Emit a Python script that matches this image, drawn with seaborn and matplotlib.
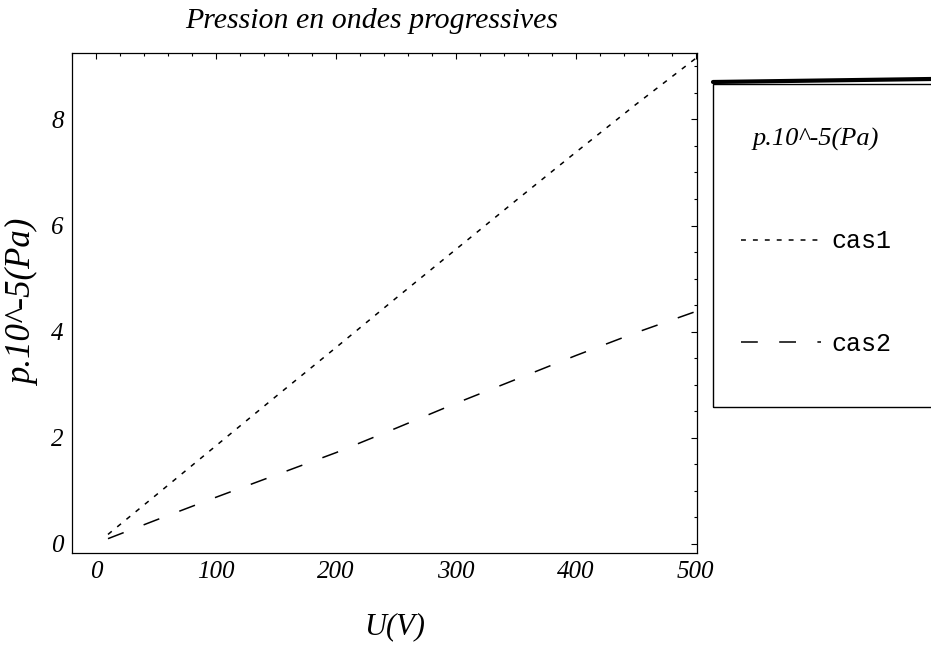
import pandas as pd
import seaborn as sns
import matplotlib.pyplot as plt
from matplotlib.patches import Rectangle
from matplotlib.lines import Line2D
from matplotlib.ticker import MultipleLocator

# values
U = [10, 50, 100, 150, 200, 250, 300, 350, 400, 450, 500]
cas1 = [0.18, 0.92, 1.85, 2.78, 3.70, 4.63, 5.55, 6.47, 7.38, 8.28, 9.15]
cas2 = [0.10, 0.45, 0.88, 1.30, 1.72, 2.18, 2.65, 3.10, 3.55, 3.98, 4.38]
series = ['cas1', 'cas2']
xticks = [0, 100, 200, 300, 400, 500]
yticks = [0, 2, 4, 6, 8]

sns.set_theme(style='white')
plt.rcParams['font.family'] = ['Liberation Serif', 'DejaVu Serif']
plt.rcParams['font.style'] = 'italic'
for key in ['text.color', 'axes.labelcolor', 'xtick.color', 'ytick.color']:
    plt.rcParams[key] = 'black'

df = pd.DataFrame({
    'U': U * 2,
    'p': cas1 + cas2,
    'serie': [series[0]] * len(U) + [series[1]] * len(U),
})

fig = plt.figure(figsize=(9.31, 6.5), dpi=100)
ax = fig.add_axes([72 / 931, 1 - 553 / 650, 625 / 931, 500 / 650])

sns.lineplot(data=df, x='U', y='p', style='serie', color='black',
             dashes={'cas1': (3.2, 4.6), 'cas2': (11, 14)},
             linewidth=1.1, legend=False, ax=ax)

ax.set_xlim(-20, 501)
ax.set_ylim(-0.17, 9.25)
ax.set_xticks(xticks)
ax.set_yticks(yticks)
ax.xaxis.set_minor_locator(MultipleLocator(20))
ax.yaxis.set_minor_locator(MultipleLocator(0.5))
ax.tick_params(which='both', direction='in', top=True, right=True,
               width=0.8, color='black', labelsize=18, pad=6)
ax.tick_params(which='major', length=4)
ax.tick_params(which='minor', length=2.2)
for s in ax.spines.values():
    s.set_color('black')
    s.set_linewidth(0.9)

ax.set_title('Pression en ondes progressives', fontsize=21.5, pad=18, x=0.48)
ax.set_xlabel('U(V)', fontsize=22)
ax.xaxis.set_label_coords(0.517, -0.118)
ax.set_ylabel('p.10^-5(Pa)', fontsize=25, labelpad=8)

# legend panel on the right
fig.add_artist(Rectangle((713 / 931, 1 - 407 / 650), 260 / 931, 323 / 650,
                         transform=fig.transFigure, fill=False,
                         edgecolor='black', linewidth=1.0))
fig.add_artist(Line2D([713 / 931, 1.0], [1 - 82 / 650, 1 - 79 / 650],
                      transform=fig.transFigure, color='black', linewidth=3))

handles = ax.get_lines()[:2]
leg = fig.legend(handles, series, loc='upper left',
                 bbox_to_anchor=(728 / 931, 1 - 115 / 650),
                 frameon=False, borderpad=0, handlelength=3.2,
                 handletextpad=0.45, labelspacing=3.15,
                 title='p.10^-5(Pa)',
                 prop={'family': 'Liberation Mono', 'style': 'normal', 'size': 18},
                 title_fontproperties={'family': 'Liberation Serif',
                                       'style': 'italic', 'size': 19})

fig.savefig('out.png', dpi=100)
